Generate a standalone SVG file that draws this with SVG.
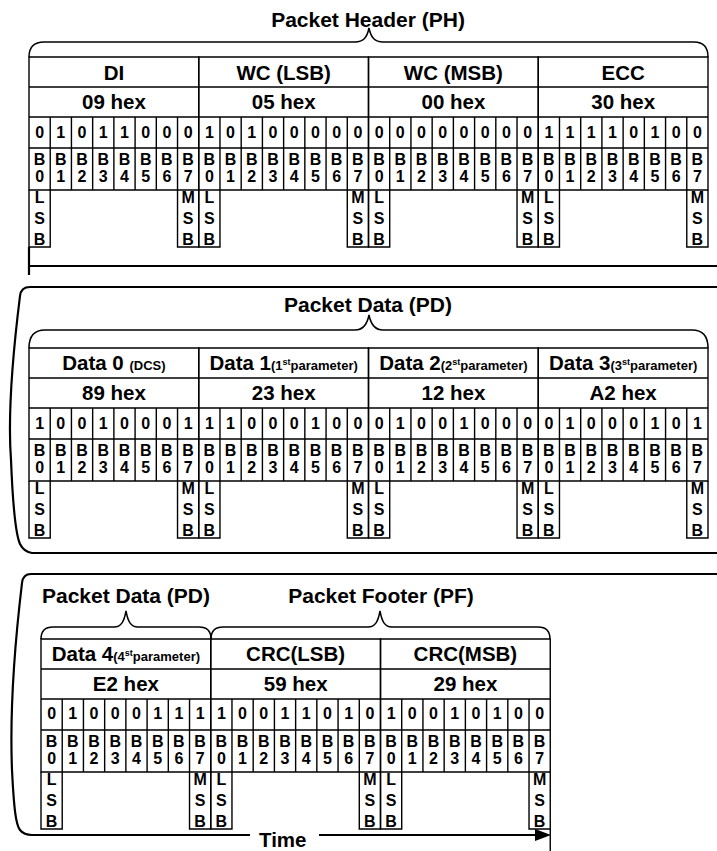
<svg xmlns="http://www.w3.org/2000/svg" xmlns:xlink="http://www.w3.org/1999/xlink" width="717" height="851" viewBox="0 0 717 851">
<style>
text{font-family:"Liberation Sans",Arial,Helvetica,sans-serif;font-weight:bold;fill:#000}
.title{font-size:21px;text-anchor:middle}
.h{font-size:20.5px;text-anchor:middle}
.sm{font-size:13px}
.sup{font-size:9px}
.bit{font-size:16px;text-anchor:middle}
.t{fill:none;stroke:#000;stroke-width:1.4}
.br{fill:none;stroke:#000;stroke-width:1.5}
.sec{fill:none;stroke:#000;stroke-width:2.2}
</style>
<defs>
<g id="frame" class="t">
<path d="M0,0H169.75V133H0Z M0,30H169.75 M0,60H169.75 M0,91H169.75"/>
<path d="M21.22,60V133 M42.44,60V133 M63.66,60V133 M84.88,60V133 M106.09,60V133 M127.31,60V133 M148.53,60V133"/>
<path d="M0,133V190H21.22V133 M148.53,133V190H169.75V133"/>
</g>
</defs>

<!-- titles -->
<text class="title" x="368" y="27">Packet Header (PH)</text>
<text class="title" x="368" y="312">Packet Data (PD)</text>
<text class="title" x="126" y="603">Packet Data (PD)</text>
<text class="title" x="381" y="603">Packet Footer (PF)</text>
<text x="259" y="847" style="font-size:20.5px">Time</text>

<g id="connectors">
<path class="br" d="M29,57 Q29,42 44,42 H355 C363,42 367,38 369,28 C371,38 375,42 383,42 H694 Q708,42 708,57"/>
<path class="br" d="M29,348 Q29,330 45,330 H355 C363,330 367,325 369,315 C371,325 375,330 383,330 H692 Q708,330 708,348"/>
<path class="br" d="M41,639 Q41,627 53,627 H114 C121,627 124,622 126,611 C128,622 131,627 138,627 H199 Q211,627 211,639"/>
<path class="br" d="M211,639 Q211,627 223,627 H368 C375,627 378,622 380,611 C382,622 385,627 392,627 H538 Q550,627 550,639"/>
<path class="sec" d="M29,247 V275 M29,266 H717"/>
<path class="sec" d="M717,287 H30 Q21,287 20,296 C12,360 8,420 11,460 C13,510 16,535 20,544 Q24,552 32,553 H717"/>
<path class="sec" d="M717,574 H31 Q23,574 22,583 C14,650 10,720 12,770 C14,810 16,825 20,830 Q24,835 32,835 H250"/>
<path class="sec" d="M319,835 H537"/>
<polygon points="535,829 551,835 535,841" fill="#000"/>
<path class="t" d="M550.25,829 V851"/>
</g>

<!-- ===== Packet Header ===== -->
<g id="ph-di" transform="translate(29,57)">
<use xlink:href="#frame" href="#frame"/>
<text class="h" x="84.9" y="23">DI</text>
<text class="h" x="84.9" y="52">09 hex</text>
<text class="bit" x="10.6" y="81">0</text><text class="bit" x="31.8" y="81">1</text><text class="bit" x="53" y="81">0</text><text class="bit" x="74.3" y="81">1</text><text class="bit" x="95.5" y="81">1</text><text class="bit" x="116.7" y="81">0</text><text class="bit" x="137.9" y="81">0</text><text class="bit" x="159.1" y="81">0</text>
<text class="bit"><tspan x="10.6" y="108">B</tspan><tspan x="10.6" y="125">0</tspan></text><text class="bit"><tspan x="31.8" y="108">B</tspan><tspan x="31.8" y="125">1</tspan></text><text class="bit"><tspan x="53" y="108">B</tspan><tspan x="53" y="125">2</tspan></text><text class="bit"><tspan x="74.3" y="108">B</tspan><tspan x="74.3" y="125">3</tspan></text><text class="bit"><tspan x="95.5" y="108">B</tspan><tspan x="95.5" y="125">4</tspan></text><text class="bit"><tspan x="116.7" y="108">B</tspan><tspan x="116.7" y="125">5</tspan></text><text class="bit"><tspan x="137.9" y="108">B</tspan><tspan x="137.9" y="125">6</tspan></text><text class="bit"><tspan x="159.1" y="108">B</tspan><tspan x="159.1" y="125">7</tspan></text>
<text class="bit"><tspan x="10.6" y="146">L</tspan><tspan x="10.6" y="167">S</tspan><tspan x="10.6" y="188">B</tspan></text>
<text class="bit"><tspan x="159.1" y="146">M</tspan><tspan x="159.1" y="167">S</tspan><tspan x="159.1" y="188">B</tspan></text>
</g>
<g id="ph-wcl" transform="translate(198.75,57)">
<use xlink:href="#frame" href="#frame"/>
<text class="h" x="84.9" y="23">WC (LSB)</text>
<text class="h" x="84.9" y="52">05 hex</text>
<text class="bit" x="10.6" y="81">1</text><text class="bit" x="31.8" y="81">0</text><text class="bit" x="53" y="81">1</text><text class="bit" x="74.3" y="81">0</text><text class="bit" x="95.5" y="81">0</text><text class="bit" x="116.7" y="81">0</text><text class="bit" x="137.9" y="81">0</text><text class="bit" x="159.1" y="81">0</text>
<text class="bit"><tspan x="10.6" y="108">B</tspan><tspan x="10.6" y="125">0</tspan></text><text class="bit"><tspan x="31.8" y="108">B</tspan><tspan x="31.8" y="125">1</tspan></text><text class="bit"><tspan x="53" y="108">B</tspan><tspan x="53" y="125">2</tspan></text><text class="bit"><tspan x="74.3" y="108">B</tspan><tspan x="74.3" y="125">3</tspan></text><text class="bit"><tspan x="95.5" y="108">B</tspan><tspan x="95.5" y="125">4</tspan></text><text class="bit"><tspan x="116.7" y="108">B</tspan><tspan x="116.7" y="125">5</tspan></text><text class="bit"><tspan x="137.9" y="108">B</tspan><tspan x="137.9" y="125">6</tspan></text><text class="bit"><tspan x="159.1" y="108">B</tspan><tspan x="159.1" y="125">7</tspan></text>
<text class="bit"><tspan x="10.6" y="146">L</tspan><tspan x="10.6" y="167">S</tspan><tspan x="10.6" y="188">B</tspan></text>
<text class="bit"><tspan x="159.1" y="146">M</tspan><tspan x="159.1" y="167">S</tspan><tspan x="159.1" y="188">B</tspan></text>
</g>
<g id="ph-wcm" transform="translate(368.5,57)">
<use xlink:href="#frame" href="#frame"/>
<text class="h" x="84.9" y="23">WC (MSB)</text>
<text class="h" x="84.9" y="52">00 hex</text>
<text class="bit" x="10.6" y="81">0</text><text class="bit" x="31.8" y="81">0</text><text class="bit" x="53" y="81">0</text><text class="bit" x="74.3" y="81">0</text><text class="bit" x="95.5" y="81">0</text><text class="bit" x="116.7" y="81">0</text><text class="bit" x="137.9" y="81">0</text><text class="bit" x="159.1" y="81">0</text>
<text class="bit"><tspan x="10.6" y="108">B</tspan><tspan x="10.6" y="125">0</tspan></text><text class="bit"><tspan x="31.8" y="108">B</tspan><tspan x="31.8" y="125">1</tspan></text><text class="bit"><tspan x="53" y="108">B</tspan><tspan x="53" y="125">2</tspan></text><text class="bit"><tspan x="74.3" y="108">B</tspan><tspan x="74.3" y="125">3</tspan></text><text class="bit"><tspan x="95.5" y="108">B</tspan><tspan x="95.5" y="125">4</tspan></text><text class="bit"><tspan x="116.7" y="108">B</tspan><tspan x="116.7" y="125">5</tspan></text><text class="bit"><tspan x="137.9" y="108">B</tspan><tspan x="137.9" y="125">6</tspan></text><text class="bit"><tspan x="159.1" y="108">B</tspan><tspan x="159.1" y="125">7</tspan></text>
<text class="bit"><tspan x="10.6" y="146">L</tspan><tspan x="10.6" y="167">S</tspan><tspan x="10.6" y="188">B</tspan></text>
<text class="bit"><tspan x="159.1" y="146">M</tspan><tspan x="159.1" y="167">S</tspan><tspan x="159.1" y="188">B</tspan></text>
</g>
<g id="ph-ecc" transform="translate(538.25,57)">
<use xlink:href="#frame" href="#frame"/>
<text class="h" x="84.9" y="23">ECC</text>
<text class="h" x="84.9" y="52">30 hex</text>
<text class="bit" x="10.6" y="81">1</text><text class="bit" x="31.8" y="81">1</text><text class="bit" x="53" y="81">1</text><text class="bit" x="74.3" y="81">1</text><text class="bit" x="95.5" y="81">0</text><text class="bit" x="116.7" y="81">1</text><text class="bit" x="137.9" y="81">0</text><text class="bit" x="159.1" y="81">0</text>
<text class="bit"><tspan x="10.6" y="108">B</tspan><tspan x="10.6" y="125">0</tspan></text><text class="bit"><tspan x="31.8" y="108">B</tspan><tspan x="31.8" y="125">1</tspan></text><text class="bit"><tspan x="53" y="108">B</tspan><tspan x="53" y="125">2</tspan></text><text class="bit"><tspan x="74.3" y="108">B</tspan><tspan x="74.3" y="125">3</tspan></text><text class="bit"><tspan x="95.5" y="108">B</tspan><tspan x="95.5" y="125">4</tspan></text><text class="bit"><tspan x="116.7" y="108">B</tspan><tspan x="116.7" y="125">5</tspan></text><text class="bit"><tspan x="137.9" y="108">B</tspan><tspan x="137.9" y="125">6</tspan></text><text class="bit"><tspan x="159.1" y="108">B</tspan><tspan x="159.1" y="125">7</tspan></text>
<text class="bit"><tspan x="10.6" y="146">L</tspan><tspan x="10.6" y="167">S</tspan><tspan x="10.6" y="188">B</tspan></text>
<text class="bit"><tspan x="159.1" y="146">M</tspan><tspan x="159.1" y="167">S</tspan><tspan x="159.1" y="188">B</tspan></text>
</g>

<!-- ===== Packet Data ===== -->
<g id="pd-data0" transform="translate(29,348)">
<use xlink:href="#frame" href="#frame"/>
<text class="h" x="84.9" y="22">Data 0 <tspan class="sm">(DCS)</tspan></text>
<text class="h" x="84.9" y="52">89 hex</text>
<text class="bit" x="10.6" y="81">1</text><text class="bit" x="31.8" y="81">0</text><text class="bit" x="53" y="81">0</text><text class="bit" x="74.3" y="81">1</text><text class="bit" x="95.5" y="81">0</text><text class="bit" x="116.7" y="81">0</text><text class="bit" x="137.9" y="81">0</text><text class="bit" x="159.1" y="81">1</text>
<text class="bit"><tspan x="10.6" y="108">B</tspan><tspan x="10.6" y="125">0</tspan></text><text class="bit"><tspan x="31.8" y="108">B</tspan><tspan x="31.8" y="125">1</tspan></text><text class="bit"><tspan x="53" y="108">B</tspan><tspan x="53" y="125">2</tspan></text><text class="bit"><tspan x="74.3" y="108">B</tspan><tspan x="74.3" y="125">3</tspan></text><text class="bit"><tspan x="95.5" y="108">B</tspan><tspan x="95.5" y="125">4</tspan></text><text class="bit"><tspan x="116.7" y="108">B</tspan><tspan x="116.7" y="125">5</tspan></text><text class="bit"><tspan x="137.9" y="108">B</tspan><tspan x="137.9" y="125">6</tspan></text><text class="bit"><tspan x="159.1" y="108">B</tspan><tspan x="159.1" y="125">7</tspan></text>
<text class="bit"><tspan x="10.6" y="146">L</tspan><tspan x="10.6" y="167">S</tspan><tspan x="10.6" y="188">B</tspan></text>
<text class="bit"><tspan x="159.1" y="146">M</tspan><tspan x="159.1" y="167">S</tspan><tspan x="159.1" y="188">B</tspan></text>
</g>
<g id="pd-data1" transform="translate(198.75,348)">
<use xlink:href="#frame" href="#frame"/>
<text class="h" x="84.9" y="22">Data 1<tspan class="sm">(1</tspan><tspan class="sup" dy="-5">st</tspan><tspan class="sm" dy="5">parameter)</tspan></text>
<text class="h" x="84.9" y="52">23 hex</text>
<text class="bit" x="10.6" y="81">1</text><text class="bit" x="31.8" y="81">1</text><text class="bit" x="53" y="81">0</text><text class="bit" x="74.3" y="81">0</text><text class="bit" x="95.5" y="81">0</text><text class="bit" x="116.7" y="81">1</text><text class="bit" x="137.9" y="81">0</text><text class="bit" x="159.1" y="81">0</text>
<text class="bit"><tspan x="10.6" y="108">B</tspan><tspan x="10.6" y="125">0</tspan></text><text class="bit"><tspan x="31.8" y="108">B</tspan><tspan x="31.8" y="125">1</tspan></text><text class="bit"><tspan x="53" y="108">B</tspan><tspan x="53" y="125">2</tspan></text><text class="bit"><tspan x="74.3" y="108">B</tspan><tspan x="74.3" y="125">3</tspan></text><text class="bit"><tspan x="95.5" y="108">B</tspan><tspan x="95.5" y="125">4</tspan></text><text class="bit"><tspan x="116.7" y="108">B</tspan><tspan x="116.7" y="125">5</tspan></text><text class="bit"><tspan x="137.9" y="108">B</tspan><tspan x="137.9" y="125">6</tspan></text><text class="bit"><tspan x="159.1" y="108">B</tspan><tspan x="159.1" y="125">7</tspan></text>
<text class="bit"><tspan x="10.6" y="146">L</tspan><tspan x="10.6" y="167">S</tspan><tspan x="10.6" y="188">B</tspan></text>
<text class="bit"><tspan x="159.1" y="146">M</tspan><tspan x="159.1" y="167">S</tspan><tspan x="159.1" y="188">B</tspan></text>
</g>
<g id="pd-data2" transform="translate(368.5,348)">
<use xlink:href="#frame" href="#frame"/>
<text class="h" x="84.9" y="22">Data 2<tspan class="sm">(2</tspan><tspan class="sup" dy="-5">st</tspan><tspan class="sm" dy="5">parameter)</tspan></text>
<text class="h" x="84.9" y="52">12 hex</text>
<text class="bit" x="10.6" y="81">0</text><text class="bit" x="31.8" y="81">1</text><text class="bit" x="53" y="81">0</text><text class="bit" x="74.3" y="81">0</text><text class="bit" x="95.5" y="81">1</text><text class="bit" x="116.7" y="81">0</text><text class="bit" x="137.9" y="81">0</text><text class="bit" x="159.1" y="81">0</text>
<text class="bit"><tspan x="10.6" y="108">B</tspan><tspan x="10.6" y="125">0</tspan></text><text class="bit"><tspan x="31.8" y="108">B</tspan><tspan x="31.8" y="125">1</tspan></text><text class="bit"><tspan x="53" y="108">B</tspan><tspan x="53" y="125">2</tspan></text><text class="bit"><tspan x="74.3" y="108">B</tspan><tspan x="74.3" y="125">3</tspan></text><text class="bit"><tspan x="95.5" y="108">B</tspan><tspan x="95.5" y="125">4</tspan></text><text class="bit"><tspan x="116.7" y="108">B</tspan><tspan x="116.7" y="125">5</tspan></text><text class="bit"><tspan x="137.9" y="108">B</tspan><tspan x="137.9" y="125">6</tspan></text><text class="bit"><tspan x="159.1" y="108">B</tspan><tspan x="159.1" y="125">7</tspan></text>
<text class="bit"><tspan x="10.6" y="146">L</tspan><tspan x="10.6" y="167">S</tspan><tspan x="10.6" y="188">B</tspan></text>
<text class="bit"><tspan x="159.1" y="146">M</tspan><tspan x="159.1" y="167">S</tspan><tspan x="159.1" y="188">B</tspan></text>
</g>
<g id="pd-data3" transform="translate(538.25,348)">
<use xlink:href="#frame" href="#frame"/>
<text class="h" x="84.9" y="22">Data 3<tspan class="sm">(3</tspan><tspan class="sup" dy="-5">st</tspan><tspan class="sm" dy="5">parameter)</tspan></text>
<text class="h" x="84.9" y="52">A2 hex</text>
<text class="bit" x="10.6" y="81">0</text><text class="bit" x="31.8" y="81">1</text><text class="bit" x="53" y="81">0</text><text class="bit" x="74.3" y="81">0</text><text class="bit" x="95.5" y="81">0</text><text class="bit" x="116.7" y="81">1</text><text class="bit" x="137.9" y="81">0</text><text class="bit" x="159.1" y="81">1</text>
<text class="bit"><tspan x="10.6" y="108">B</tspan><tspan x="10.6" y="125">0</tspan></text><text class="bit"><tspan x="31.8" y="108">B</tspan><tspan x="31.8" y="125">1</tspan></text><text class="bit"><tspan x="53" y="108">B</tspan><tspan x="53" y="125">2</tspan></text><text class="bit"><tspan x="74.3" y="108">B</tspan><tspan x="74.3" y="125">3</tspan></text><text class="bit"><tspan x="95.5" y="108">B</tspan><tspan x="95.5" y="125">4</tspan></text><text class="bit"><tspan x="116.7" y="108">B</tspan><tspan x="116.7" y="125">5</tspan></text><text class="bit"><tspan x="137.9" y="108">B</tspan><tspan x="137.9" y="125">6</tspan></text><text class="bit"><tspan x="159.1" y="108">B</tspan><tspan x="159.1" y="125">7</tspan></text>
<text class="bit"><tspan x="10.6" y="146">L</tspan><tspan x="10.6" y="167">S</tspan><tspan x="10.6" y="188">B</tspan></text>
<text class="bit"><tspan x="159.1" y="146">M</tspan><tspan x="159.1" y="167">S</tspan><tspan x="159.1" y="188">B</tspan></text>
</g>

<!-- ===== Packet Data 4 + Footer ===== -->
<g id="pd-data4" transform="translate(41,639)">
<use xlink:href="#frame" href="#frame"/>
<text class="h" x="84.9" y="22">Data 4<tspan class="sm">(4</tspan><tspan class="sup" dy="-5">st</tspan><tspan class="sm" dy="5">parameter)</tspan></text>
<text class="h" x="84.9" y="52">E2 hex</text>
<text class="bit" x="10.6" y="80">0</text><text class="bit" x="31.8" y="80">1</text><text class="bit" x="53" y="80">0</text><text class="bit" x="74.3" y="80">0</text><text class="bit" x="95.5" y="80">0</text><text class="bit" x="116.7" y="80">1</text><text class="bit" x="137.9" y="80">1</text><text class="bit" x="159.1" y="80">1</text>
<text class="bit"><tspan x="10.6" y="108">B</tspan><tspan x="10.6" y="125">0</tspan></text><text class="bit"><tspan x="31.8" y="108">B</tspan><tspan x="31.8" y="125">1</tspan></text><text class="bit"><tspan x="53" y="108">B</tspan><tspan x="53" y="125">2</tspan></text><text class="bit"><tspan x="74.3" y="108">B</tspan><tspan x="74.3" y="125">3</tspan></text><text class="bit"><tspan x="95.5" y="108">B</tspan><tspan x="95.5" y="125">4</tspan></text><text class="bit"><tspan x="116.7" y="108">B</tspan><tspan x="116.7" y="125">5</tspan></text><text class="bit"><tspan x="137.9" y="108">B</tspan><tspan x="137.9" y="125">6</tspan></text><text class="bit"><tspan x="159.1" y="108">B</tspan><tspan x="159.1" y="125">7</tspan></text>
<text class="bit"><tspan x="10.6" y="146">L</tspan><tspan x="10.6" y="167">S</tspan><tspan x="10.6" y="188">B</tspan></text>
<text class="bit"><tspan x="159.1" y="146">M</tspan><tspan x="159.1" y="167">S</tspan><tspan x="159.1" y="188">B</tspan></text>
</g>
<g id="pf-crcl" transform="translate(210.75,639)">
<use xlink:href="#frame" href="#frame"/>
<text class="h" x="84.9" y="22">CRC(LSB)</text>
<text class="h" x="84.9" y="52">59 hex</text>
<text class="bit" x="10.6" y="80">1</text><text class="bit" x="31.8" y="80">0</text><text class="bit" x="53" y="80">0</text><text class="bit" x="74.3" y="80">1</text><text class="bit" x="95.5" y="80">1</text><text class="bit" x="116.7" y="80">0</text><text class="bit" x="137.9" y="80">1</text><text class="bit" x="159.1" y="80">0</text>
<text class="bit"><tspan x="10.6" y="108">B</tspan><tspan x="10.6" y="125">0</tspan></text><text class="bit"><tspan x="31.8" y="108">B</tspan><tspan x="31.8" y="125">1</tspan></text><text class="bit"><tspan x="53" y="108">B</tspan><tspan x="53" y="125">2</tspan></text><text class="bit"><tspan x="74.3" y="108">B</tspan><tspan x="74.3" y="125">3</tspan></text><text class="bit"><tspan x="95.5" y="108">B</tspan><tspan x="95.5" y="125">4</tspan></text><text class="bit"><tspan x="116.7" y="108">B</tspan><tspan x="116.7" y="125">5</tspan></text><text class="bit"><tspan x="137.9" y="108">B</tspan><tspan x="137.9" y="125">6</tspan></text><text class="bit"><tspan x="159.1" y="108">B</tspan><tspan x="159.1" y="125">7</tspan></text>
<text class="bit"><tspan x="10.6" y="146">L</tspan><tspan x="10.6" y="167">S</tspan><tspan x="10.6" y="188">B</tspan></text>
<text class="bit"><tspan x="159.1" y="146">M</tspan><tspan x="159.1" y="167">S</tspan><tspan x="159.1" y="188">B</tspan></text>
</g>
<g id="pf-crcm" transform="translate(380.5,639)">
<use xlink:href="#frame" href="#frame"/>
<text class="h" x="84.9" y="22">CRC(MSB)</text>
<text class="h" x="84.9" y="52">29 hex</text>
<text class="bit" x="10.6" y="80">1</text><text class="bit" x="31.8" y="80">0</text><text class="bit" x="53" y="80">0</text><text class="bit" x="74.3" y="80">1</text><text class="bit" x="95.5" y="80">0</text><text class="bit" x="116.7" y="80">1</text><text class="bit" x="137.9" y="80">0</text><text class="bit" x="159.1" y="80">0</text>
<text class="bit"><tspan x="10.6" y="108">B</tspan><tspan x="10.6" y="125">0</tspan></text><text class="bit"><tspan x="31.8" y="108">B</tspan><tspan x="31.8" y="125">1</tspan></text><text class="bit"><tspan x="53" y="108">B</tspan><tspan x="53" y="125">2</tspan></text><text class="bit"><tspan x="74.3" y="108">B</tspan><tspan x="74.3" y="125">3</tspan></text><text class="bit"><tspan x="95.5" y="108">B</tspan><tspan x="95.5" y="125">4</tspan></text><text class="bit"><tspan x="116.7" y="108">B</tspan><tspan x="116.7" y="125">5</tspan></text><text class="bit"><tspan x="137.9" y="108">B</tspan><tspan x="137.9" y="125">6</tspan></text><text class="bit"><tspan x="159.1" y="108">B</tspan><tspan x="159.1" y="125">7</tspan></text>
<text class="bit"><tspan x="10.6" y="146">L</tspan><tspan x="10.6" y="167">S</tspan><tspan x="10.6" y="188">B</tspan></text>
<text class="bit"><tspan x="159.1" y="146">M</tspan><tspan x="159.1" y="167">S</tspan><tspan x="159.1" y="188">B</tspan></text>
</g>
</svg>
